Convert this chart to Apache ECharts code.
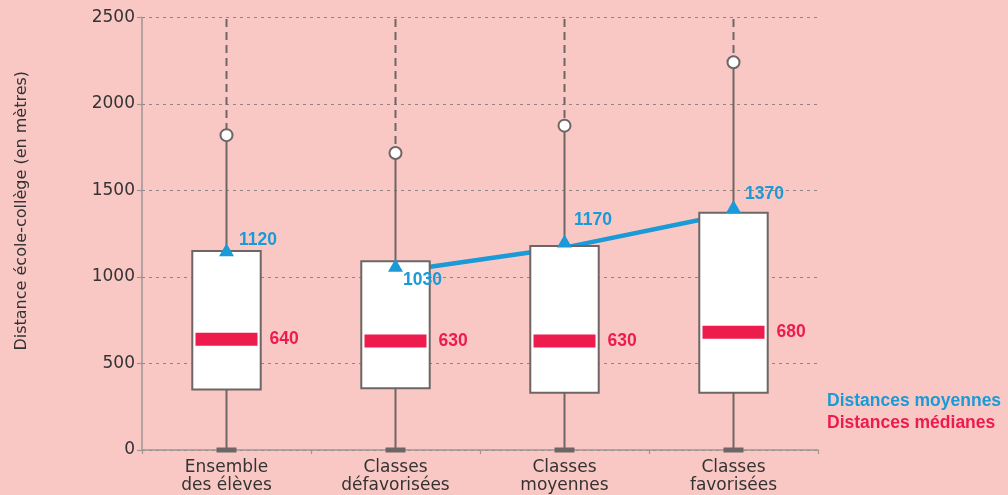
<!DOCTYPE html>
<html>
<head>
<meta charset="utf-8">
<script src="https://cdn.jsdelivr.net/npm/echarts/dist/echarts.min.js"></script>
<style>
  html, body { margin: 0; padding: 0; background: #f9c8c4; }
  #chart { width: 1008px; height: 495px; }
</style>
</head>
<body>
<div id="chart"></div>
<script>
// Distance école-collège par groupe d'élèves (en mètres)
const categories = ['Ensemble\ndes élèves', 'Classes\ndéfavorisées', 'Classes\nmoyennes', 'Classes\nfavorisées'];
const whiskerLow = [0, 0, 0, 0];
const q1 = [350, 357, 331, 331];
const q3 = [1150, 1091, 1179, 1372];
const whiskerHigh = [1820, 1717, 1875, 2241];
const medians = [640, 630, 630, 680];
const means = [1120, 1030, 1170, 1370];
const yTicks = [0, 500, 1000, 1500, 2000, 2500];

const BLUE = '#1a9ad6';
const RED = '#ee1b4d';
const STROKE = '#6e6664';
const AXIS = '#9d9594';
const yMin = yTicks[0];
const yMax = yTicks[yTicks.length - 1];
const yStep = yTicks[1] - yTicks[0];

// label placement for the mean values: [distance, dy]
const meanLabelPlace = [[5, -10], [0, 15], [2, -21], [4, -12]];

const boxData = categories.map((c, i) => [i, whiskerLow[i], q1[i], q3[i], whiskerHigh[i]]);
// the trend line joins the three social groups only
const meanTrend = means.map((v, i) => (i === 0 ? '-' : v));

function renderBox(params, api) {
  const i = api.value(0);
  const x = api.coord([i, 0])[0];
  const w = api.size([1, 0])[0] * 0.405;
  const yLow = api.coord([i, api.value(1)])[1];
  const yQ1 = api.coord([i, api.value(2)])[1];
  const yQ3 = api.coord([i, api.value(3)])[1];
  const yHi = api.coord([i, api.value(4)])[1];
  const yTop = api.coord([i, yMax])[1];
  const r = 6;
  return {
    type: 'group',
    children: [
      { type: 'line', shape: { x1: x, y1: yTop + 1.5, x2: x, y2: yHi - r }, style: { stroke: STROKE, lineWidth: 2, lineDash: [8, 5] } },
      { type: 'line', shape: { x1: x, y1: yQ3, x2: x, y2: yHi + r }, style: { stroke: STROKE, lineWidth: 2 } },
      { type: 'line', shape: { x1: x, y1: yLow, x2: x, y2: yQ1 }, style: { stroke: STROKE, lineWidth: 2 } },
      { type: 'rect', shape: { x: x - 10, y: yLow - 2.5, width: 20, height: 5 }, style: { fill: STROKE } },
      { type: 'rect', shape: { x: x - w / 2, y: yQ3, width: w, height: yQ1 - yQ3 }, style: { fill: '#ffffff', stroke: STROKE, lineWidth: 2 } },
      { type: 'circle', shape: { cx: x, cy: yHi, r: r }, style: { fill: '#ffffff', stroke: STROKE, lineWidth: 2 } }
    ]
  };
}

const chart = echarts.init(document.getElementById('chart'), null, { renderer: 'canvas' });
chart.setOption({
  backgroundColor: '#f9c8c4',
  animation: false,
  textStyle: { fontFamily: 'DejaVu Sans' },
  grid: { left: 142, right: 190, top: 17.5, bottom: 45, containLabel: false },
  legend: {
    orient: 'vertical',
    left: 817,
    top: 387,
    itemWidth: 0,
    itemHeight: 12,
    itemGap: 4,
    selectedMode: false,
    itemStyle: { opacity: 0 },
    textStyle: { fontFamily: 'Liberation Sans', fontWeight: 'bold', fontSize: 17.5 },
    data: [
      { name: 'Distances moyennes', textStyle: { color: BLUE } },
      { name: 'Distances médianes', textStyle: { color: RED } }
    ]
  },
  xAxis: {
    type: 'category',
    data: categories,
    boundaryGap: true,
    axisLine: { lineStyle: { color: AXIS, width: 1.5 } },
    axisTick: { show: true, length: 4, alignWithLabel: false, lineStyle: { color: AXIS, width: 1.2 } },
    axisLabel: { fontFamily: 'DejaVu Sans', fontSize: 17, color: '#333333', lineHeight: 18, margin: 9 },
    splitLine: { show: false }
  },
  yAxis: {
    type: 'value',
    min: yMin,
    max: yMax,
    interval: yStep,
    name: 'Distance école-collège (en mètres)',
    nameLocation: 'middle',
    nameRotate: 90,
    nameGap: 112,
    nameTextStyle: { fontFamily: 'DejaVu Sans', fontSize: 16, color: '#333333', padding: [0, 0, 0, 46] },
    axisLine: { show: true, lineStyle: { color: AXIS, width: 1.5 } },
    axisTick: { show: true, length: 5, lineStyle: { color: AXIS, width: 1.2 } },
    axisLabel: {
      fontFamily: 'DejaVu Sans', fontSize: 17, color: '#333333', margin: 7,
      formatter: v => String(v)
    },
    splitLine: { show: true, lineStyle: { color: '#8c8584', width: 1.2, type: [3, 4] } }
  },
  series: [
    {
      name: 'Tendance moyennes',
      type: 'line',
      z: 1,
      data: meanTrend,
      symbol: 'none',
      lineStyle: { color: BLUE, width: 4.5 },
      silent: true
    },
    {
      name: 'Boîtes',
      type: 'custom',
      z: 2,
      data: boxData,
      encode: { x: 0, y: [1, 2, 3, 4] },
      renderItem: renderBox,
      silent: true
    },
    {
      name: 'Distances médianes',
      type: 'scatter',
      z: 3,
      data: medians,
      symbol: 'rect',
      symbolSize: [62, 13],
      itemStyle: { color: RED, opacity: 1 },
      label: {
        show: true,
        position: 'right',
        distance: 12,
        color: RED,
        fontFamily: 'Liberation Sans',
        fontWeight: 'bold',
        fontSize: 17.5,
        formatter: '{c}'
      }
    },
    {
      name: 'Distances moyennes',
      type: 'scatter',
      z: 4,
      data: means.map((v, i) => ({
        value: v,
        label: { distance: meanLabelPlace[i][0], offset: [0, meanLabelPlace[i][1]] }
      })),
      symbol: 'triangle',
      symbolSize: [15, 13],
      symbolOffset: [0, '-50%'],
      itemStyle: { color: BLUE, opacity: 1 },
      label: {
        show: true,
        position: 'right',
        color: BLUE,
        fontFamily: 'Liberation Sans',
        fontWeight: 'bold',
        fontSize: 17.5,
        formatter: '{c}'
      }
    }
  ]
});
</script>
</body>
</html>
